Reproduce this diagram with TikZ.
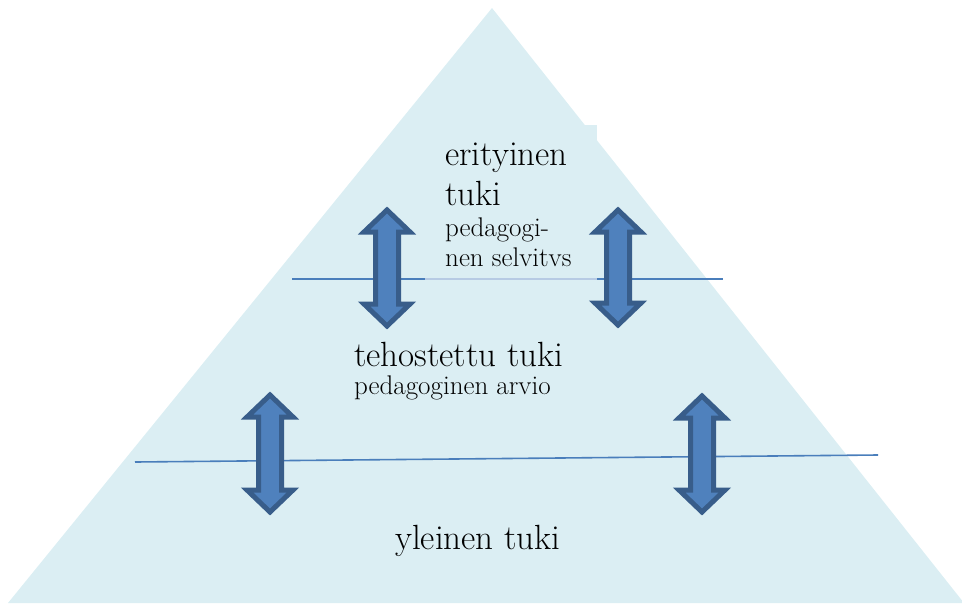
\documentclass[tikz,border=0pt]{standalone}
\usepackage{fontspec}
\definecolor{tri}{HTML}{DBEEF3}
\definecolor{lin}{HTML}{4A7EBB}
\definecolor{arrfill}{HTML}{4F81BD}
\definecolor{arrdraw}{HTML}{385D8A}
\tikzset{
  levelline/.style={draw=lin, line width=1.6pt},
  bigtxt/.style={anchor=base west, inner sep=0pt, font=\fontsize{35}{40}\selectfont, text=black},
  smalltxt/.style={anchor=base west, inner sep=0pt, font=\fontsize{27}{31}\selectfont, text=black},
  blockarrow/.style={fill=arrfill, draw=arrdraw, line width=5pt, line join=miter},
}
% #1 centre x, #2 top tip y, #3 bottom tip y (pixel coordinates, y downwards)
\newcommand\myvdarrow[3]{%
  \draw[blockarrow] (#1,#2+3) -- (#1+23,#2+25) -- (#1+11.5,#2+25) -- (#1+11.5,#3-25)
    -- (#1+23,#3-25) -- (#1,#3-3) -- (#1-23,#3-25) -- (#1-11.5,#3-25)
    -- (#1-11.5,#2+25) -- (#1-23,#2+25) -- cycle;}
\begin{document}
\begin{tikzpicture}[x=1pt,y=-1pt]
  \useasboundingbox (0,0) rectangle (962,603);
  % pyramid
  \fill[tri] (8,603) -- (492,8) -- (964,603) -- cycle;
  % level lines
  \draw[levelline] (292,279) -- (723,279);
  \draw[levelline] (135,462) -- (878,455);
  % text box over the upper line
  \fill[tri] (425,125) rectangle (597,286);
  \draw[levelline, draw=lin!40] (425,279) -- (597,279);
  % texts
  \node[bigtxt]   (t1) at (445,165) {erityinen};
  \node[bigtxt]   (t2) at (445,205) {tuki};
  \node[smalltxt] (t3) at (445,236) {pedagogi-};
  \node[smalltxt] (t4) at (445,266) {nen selvitvs};
  \node[bigtxt]   (t5) at (354,366) {tehostettu tuki};
  \node[smalltxt] (t6) at (354,394) {pedagoginen arvio};
  \node[bigtxt]   (t7) at (395,549) {yleinen tuki};
  % double arrows
  \myvdarrow{387}{207}{329}
  \myvdarrow{618}{207}{328}
  \myvdarrow{270}{392}{515}
  \myvdarrow{702}{393}{515}
\end{tikzpicture}
\end{document}
